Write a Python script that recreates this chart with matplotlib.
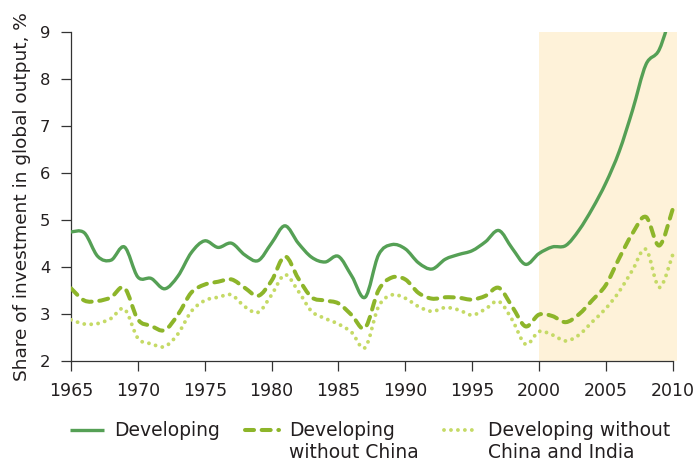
import numpy as np
import matplotlib
matplotlib.use("Agg")
import matplotlib.pyplot as plt
from matplotlib.path import Path
from matplotlib.patches import PathPatch
from matplotlib.lines import Line2D

# Data (share of investment in global output, %)
years = list(range(1965, 2011))
developing = [4.74, 4.72, 4.22, 4.14, 4.42, 3.78, 3.75, 3.53, 3.80, 4.30,
              4.55, 4.41, 4.50, 4.25, 4.13, 4.50, 4.87, 4.50, 4.20, 4.10,
              4.22, 3.80, 3.35, 4.25, 4.47, 4.38, 4.08, 3.95, 4.16, 4.26,
              4.34, 4.53, 4.77, 4.39, 4.05, 4.28, 4.42, 4.45, 4.78, 5.24,
              5.78, 6.45, 7.33, 8.30, 8.62, 9.50]
dev_no_china = [3.54, 3.28, 3.27, 3.35, 3.55, 2.88, 2.74, 2.65, 2.98, 3.45,
                3.62, 3.68, 3.73, 3.55, 3.38, 3.70, 4.22, 3.75, 3.35, 3.28,
                3.22, 2.97, 2.70, 3.50, 3.77, 3.73, 3.44, 3.32, 3.35, 3.34,
                3.30, 3.38, 3.55, 3.15, 2.73, 2.98, 2.95, 2.82, 2.99, 3.29,
                3.61, 4.18, 4.71, 5.06, 4.45, 5.22]
dev_no_china_india = [2.87, 2.78, 2.79, 2.90, 3.10, 2.48, 2.36, 2.30, 2.57, 3.05,
                      3.28, 3.35, 3.40, 3.15, 3.03, 3.40, 3.83, 3.48, 3.05, 2.90,
                      2.78, 2.60, 2.28, 3.15, 3.40, 3.33, 3.15, 3.05, 3.13, 3.08,
                      2.97, 3.10, 3.26, 2.87, 2.35, 2.62, 2.55, 2.42, 2.55, 2.83,
                      3.11, 3.47, 3.93, 4.37, 3.56, 4.25]
labels = ["Developing", "Developing\nwithout China", "Developing without\nChina and India"]
highlight = (2000, 2010.3)

c_dev = "#55a055"
c_noch = "#8db52a"
c_nochin = "#c5da66"
c_shade = "#fef2d9"
c_text = "#231f20"

W, H = 695, 461
plt.rcParams["font.family"] = ["DejaVu Sans"]
plt.rcParams["lines.scale_dashes"] = False


def smooth_path(x, y):
    # Catmull-Rom curve through the yearly points, as cubic Bezier segments
    pts = np.column_stack([x, y]).astype(float)
    ext = np.vstack([pts[0], pts, pts[-1]])
    verts = [pts[0]]
    codes = [Path.MOVETO]
    for i in range(1, len(ext) - 2):
        p0, p1, p2, p3 = ext[i - 1], ext[i], ext[i + 1], ext[i + 2]
        verts += [p1 + (p2 - p0) / 6.0, p2 - (p3 - p1) / 6.0, p2]
        codes += [Path.CURVE4] * 3
    return Path(verts, codes)


fig = plt.figure(figsize=(W / 100, H / 100), dpi=100)
ax = fig.add_axes([71 / W, 1 - 360.7 / H, (678 - 71) / W, 329 / H])

ax.axvspan(highlight[0], highlight[1], ymin=0, ymax=1, color=c_shade, lw=0, zorder=0)

styles = [
    dict(color=c_dev, lw=2.4, linestyle="solid"),
    dict(color=c_noch, lw=2.9, linestyle=(0, (6.5, 5.5))),
    dict(color=c_nochin, lw=2.8, linestyle=(0, (0.01, 5.0))),
]
series = [developing, dev_no_china, dev_no_china_india]
for vals, st in zip(series, styles):
    patch = PathPatch(smooth_path(years, vals), facecolor="none", edgecolor=st["color"],
                      lw=st["lw"], linestyle=st["linestyle"], capstyle="round",
                      joinstyle="round", zorder=3)
    ax.add_patch(patch)

ax.set_xlim(1965, 2010.4)
ax.set_ylim(2, 9)
ax.set_xticks(range(1965, 2011, 5))
ax.set_yticks(range(2, 10))
for s in ["top", "right"]:
    ax.spines[s].set_visible(False)
ax.spines["bottom"].set_bounds(1965, 2010)
for s in ["left", "bottom"]:
    ax.spines[s].set_color("#333333")
    ax.spines[s].set_linewidth(0.9)
ax.tick_params(axis="x", length=7, width=0.9, color="#333333", labelsize=12.5,
               labelcolor=c_text, pad=8)
ax.tick_params(axis="y", length=7, width=0.9, color="#333333", labelsize=11.8,
               labelcolor=c_text, pad=8)
ax.set_ylabel("Share of investment in global output, %", fontsize=13.3, color=c_text,
              labelpad=6)

# legend drawn by hand: handle level with the first line of each label
leg_x = [(70, 104, 114), (245, 279, 289), (444, 478, 488)]
for (x0, x1, xt), st, lab in zip(leg_x, styles, labels):
    fig.add_artist(Line2D([x0 / W, x1 / W], [1 - 430 / H, 1 - 430 / H],
                          transform=fig.transFigure, color=st["color"], lw=st["lw"],
                          linestyle=st["linestyle"], dash_capstyle="round",
                          solid_capstyle="butt"))
    fig.text(xt / W, 1 - 420.5 / H, lab, ha="left", va="top", fontsize=13.5,
             color=c_text, linespacing=1.2)

fig.savefig("out.png", dpi=100)
